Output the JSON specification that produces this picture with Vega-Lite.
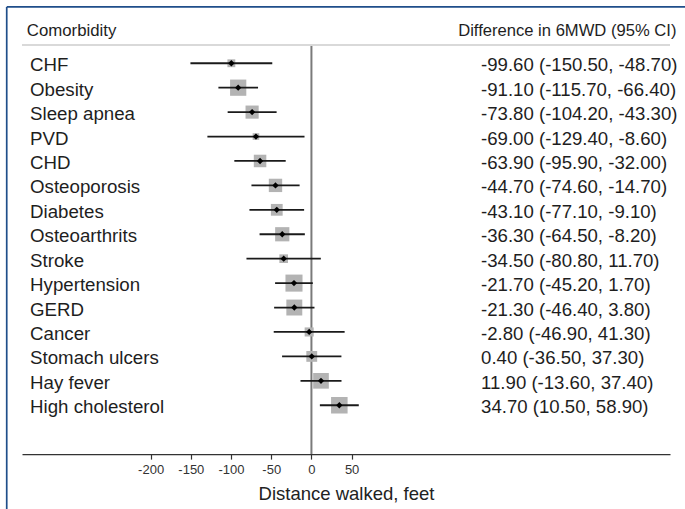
{
  "$schema": "https://vega.github.io/schema/vega-lite/v6.json",
  "autosize": {"type": "none"},
  "width": 648,
  "height": 439.7,
  "padding": {"left": 22, "top": 14.4, "right": 15, "bottom": 54.9},
  "background": "white",
  "config": {
    "view": {"stroke": null},
    "font": "Liberation Sans",
    "axisX": {"grid": false,
      "domainColor": "#333333", "domainWidth": 1.4, "tickColor": "#333333", "tickWidth": 1.2, "tickSize": 5,
      "labelFont": "Liberation Sans", "labelFontSize": 13, "labelColor": "#333333", "labelPadding": 4,
      "labelExpr": "'' + datum.value",
      "titleFont": "Liberation Sans", "titleFontSize": 18.5, "titleFontWeight": "normal", "titleColor": "#222222", "titlePadding": 8}
  },
  "data": {
    "values": [
      {"row": 1, "comorbidity": "CHF", "est": -99.6, "lo": -150.5, "hi": -48.7, "weight": 3.86, "label": "-99.60 (-150.50, -48.70)"},
      {"row": 2, "comorbidity": "Obesity", "est": -91.1, "lo": -115.7, "hi": -66.4, "weight": 16.46, "label": "-91.10 (-115.70, -66.40)"},
      {"row": 3, "comorbidity": "Sleep apnea", "est": -73.8, "lo": -104.2, "hi": -43.3, "weight": 10.79, "label": "-73.80 (-104.20, -43.30)"},
      {"row": 4, "comorbidity": "PVD", "est": -69.0, "lo": -129.4, "hi": -8.6, "weight": 2.74, "label": "-69.00 (-129.40, -8.60)"},
      {"row": 5, "comorbidity": "CHD", "est": -63.9, "lo": -95.9, "hi": -32.0, "weight": 9.8, "label": "-63.90 (-95.90, -32.00)"},
      {"row": 6, "comorbidity": "Osteoporosis", "est": -44.7, "lo": -74.6, "hi": -14.7, "weight": 11.15, "label": "-44.70 (-74.60, -14.70)"},
      {"row": 7, "comorbidity": "Diabetes", "est": -43.1, "lo": -77.1, "hi": -9.1, "weight": 8.65, "label": "-43.10 (-77.10, -9.10)"},
      {"row": 8, "comorbidity": "Osteoarthrits", "est": -36.3, "lo": -64.5, "hi": -8.2, "weight": 12.62, "label": "-36.30 (-64.50, -8.20)"},
      {"row": 9, "comorbidity": "Stroke", "est": -34.5, "lo": -80.8, "hi": 11.7, "weight": 4.67, "label": "-34.50 (-80.80, 11.70)"},
      {"row": 10, "comorbidity": "Hypertension", "est": -21.7, "lo": -45.2, "hi": 1.7, "weight": 18.18, "label": "-21.70 (-45.20, 1.70)"},
      {"row": 11, "comorbidity": "GERD", "est": -21.3, "lo": -46.4, "hi": 3.8, "weight": 15.87, "label": "-21.30 (-46.40, 3.80)"},
      {"row": 12, "comorbidity": "Cancer", "est": -2.8, "lo": -46.9, "hi": 41.3, "weight": 5.14, "label": "-2.80 (-46.90, 41.30)"},
      {"row": 13, "comorbidity": "Stomach ulcers", "est": 0.4, "lo": -36.5, "hi": 37.3, "weight": 7.34, "label": "0.40 (-36.50, 37.30)"},
      {"row": 14, "comorbidity": "Hay fever", "est": 11.9, "lo": -13.6, "hi": 37.4, "weight": 15.38, "label": "11.90 (-13.60, 37.40)"},
      {"row": 15, "comorbidity": "High cholesterol", "est": 34.7, "lo": 10.5, "hi": 58.9, "weight": 17.08, "label": "34.70 (10.50, 58.90)"}
    ]
  },
  "layer": [
    {
      "data": {"values": [{}]},
      "mark": {"type": "rule", "color": "#d9d9d9", "strokeWidth": 2},
      "encoding": {
        "x": {"datum": -360, "type": "quantitative", "scale": {"domain": [-360, 446], "nice": false, "zero": false}, "axis": {"values": [-200, -150, -100, -50, 0, 50], "title": "Distance walked, feet"}},
        "x2": {"datum": 446},
        "y": {"datum": 0.25, "type": "quantitative", "scale": {"domain": [-1, 17], "reverse": true, "nice": false, "zero": false}, "axis": null}
      }
    },
    {
      "data": {"values": [{}]},
      "mark": {"type": "rule", "color": "#7a7a7a", "strokeWidth": 2},
      "encoding": {
        "x": {"datum": 0, "type": "quantitative", "scale": {"domain": [-360, 446], "nice": false, "zero": false}, "axis": {"values": [-200, -150, -100, -50, 0, 50], "title": "Distance walked, feet"}},
        "y": {"datum": 0.29, "type": "quantitative", "scale": {"domain": [-1, 17], "reverse": true, "nice": false, "zero": false}, "axis": null},
        "y2": {"datum": 17}
      }
    },
    {
      "mark": {"type": "point", "shape": "square", "filled": true, "color": "#b3b3b3", "opacity": 1},
      "encoding": {
        "x": {"field": "est", "type": "quantitative", "scale": {"domain": [-360, 446], "nice": false, "zero": false}, "axis": {"values": [-200, -150, -100, -50, 0, 50], "title": "Distance walked, feet"}},
        "y": {"field": "row", "type": "quantitative", "scale": {"domain": [-1, 17], "reverse": true, "nice": false, "zero": false}, "axis": null},
        "size": {"field": "weight", "type": "quantitative", "scale": {"type": "linear", "domain": [0, 20], "range": [0, 320]}, "legend": null}
      }
    },
    {
      "mark": {"type": "rule", "color": "#1a1a1a", "strokeWidth": 1.8},
      "encoding": {
        "x": {"field": "lo", "type": "quantitative", "scale": {"domain": [-360, 446], "nice": false, "zero": false}, "axis": {"values": [-200, -150, -100, -50, 0, 50], "title": "Distance walked, feet"}},
        "x2": {"field": "hi"},
        "y": {"field": "row", "type": "quantitative", "scale": {"domain": [-1, 17], "reverse": true, "nice": false, "zero": false}, "axis": null}
      }
    },
    {
      "mark": {"type": "point", "shape": "diamond", "filled": true, "color": "#000000", "size": 40, "opacity": 1},
      "encoding": {
        "x": {"field": "est", "type": "quantitative", "scale": {"domain": [-360, 446], "nice": false, "zero": false}, "axis": {"values": [-200, -150, -100, -50, 0, 50], "title": "Distance walked, feet"}},
        "y": {"field": "row", "type": "quantitative", "scale": {"domain": [-1, 17], "reverse": true, "nice": false, "zero": false}, "axis": null}
      }
    },
    {
      "mark": {"type": "text", "align": "left", "baseline": "alphabetic", "dy": 8, "fontSize": 18.7, "font": "Liberation Sans", "color": "#1e1e1e"},
      "encoding": {
        "x": {"datum": -350, "type": "quantitative", "scale": {"domain": [-360, 446], "nice": false, "zero": false}, "axis": {"values": [-200, -150, -100, -50, 0, 50], "title": "Distance walked, feet"}},
        "y": {"field": "row", "type": "quantitative", "scale": {"domain": [-1, 17], "reverse": true, "nice": false, "zero": false}, "axis": null},
        "text": {"field": "comorbidity"}
      }
    },
    {
      "mark": {"type": "text", "align": "left", "baseline": "alphabetic", "dy": 8, "fontSize": 18.6, "font": "Liberation Sans", "color": "#1e1e1e"},
      "encoding": {
        "x": {"datum": 211, "type": "quantitative", "scale": {"domain": [-360, 446], "nice": false, "zero": false}, "axis": {"values": [-200, -150, -100, -50, 0, 50], "title": "Distance walked, feet"}},
        "y": {"field": "row", "type": "quantitative", "scale": {"domain": [-1, 17], "reverse": true, "nice": false, "zero": false}, "axis": null},
        "text": {"field": "label"}
      }
    },
    {
      "data": {"values": [{"header": "Comorbidity"}]},
      "mark": {"type": "text", "align": "left", "baseline": "alphabetic", "fontSize": 16.8, "font": "Liberation Sans", "color": "#1e1e1e"},
      "encoding": {
        "x": {"datum": -354, "type": "quantitative", "scale": {"domain": [-360, 446], "nice": false, "zero": false}, "axis": {"values": [-200, -150, -100, -50, 0, 50], "title": "Distance walked, feet"}},
        "y": {"datum": -0.12, "type": "quantitative", "scale": {"domain": [-1, 17], "reverse": true, "nice": false, "zero": false}, "axis": null},
        "text": {"field": "header"}
      }
    },
    {
      "data": {"values": [{"header": "Difference in 6MWD (95% CI)"}]},
      "mark": {"type": "text", "align": "right", "baseline": "alphabetic", "fontSize": 16.6, "font": "Liberation Sans", "color": "#1e1e1e"},
      "encoding": {
        "x": {"datum": 454, "type": "quantitative", "scale": {"domain": [-360, 446], "nice": false, "zero": false}, "axis": {"values": [-200, -150, -100, -50, 0, 50], "title": "Distance walked, feet"}},
        "y": {"datum": -0.12, "type": "quantitative", "scale": {"domain": [-1, 17], "reverse": true, "nice": false, "zero": false}, "axis": null},
        "text": {"field": "header"}
      }
    },
    {
      "data": {"values": [{}]},
      "mark": {"type": "rule", "color": "#1f4e8a", "strokeWidth": 1.7},
      "encoding": {
        "x": {"datum": -379, "type": "quantitative", "scale": {"domain": [-360, 446], "nice": false, "zero": false}, "axis": {"values": [-200, -150, -100, -50, 0, 50], "title": "Distance walked, feet"}},
        "y": {"datum": -1.305, "type": "quantitative", "scale": {"domain": [-1, 17], "reverse": true, "nice": false, "zero": false}, "axis": null},
        "y2": {"datum": 20}
      }
    },
    {
      "data": {"values": [{}]},
      "mark": {"type": "rule", "color": "#1f4e8a", "strokeWidth": 1.7},
      "encoding": {
        "x": {"datum": -379, "type": "quantitative", "scale": {"domain": [-360, 446], "nice": false, "zero": false}, "axis": {"values": [-200, -150, -100, -50, 0, 50], "title": "Distance walked, feet"}},
        "x2": {"datum": 500},
        "y": {"datum": -1.305, "type": "quantitative", "scale": {"domain": [-1, 17], "reverse": true, "nice": false, "zero": false}, "axis": null}
      }
    }
  ]
}
